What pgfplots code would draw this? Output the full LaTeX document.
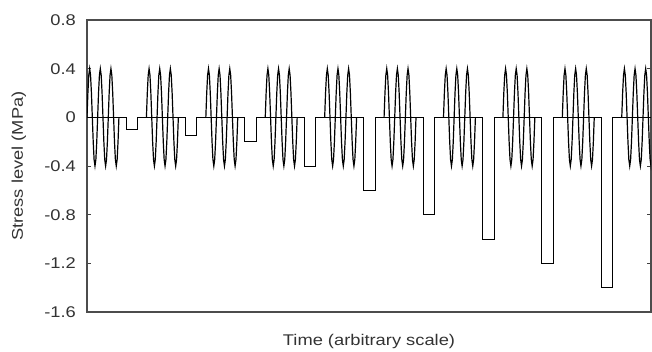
\documentclass[border=0pt]{standalone}
\usepackage{fontspec}
\setmainfont{Liberation Sans}[FakeStretch=1.18]
\usepackage{pgfplots}
\usepackage{pgfplotstable}
\pgfplotsset{compat=1.18}
\pgfplotstableread{
x y
0 0
1 0.2
2 0.346
3 0.4
4 0.346
5 0.2
6 0
7 -0.2
8 -0.346
9 -0.4
10 -0.346
11 -0.2
12 0
13 0.2
14 0.346
15 0.4
16 0.346
17 0.2
18 0
19 -0.2
20 -0.346
21 -0.4
22 -0.346
23 -0.2
24 0
25 0.2
26 0.346
27 0.4
28 0.346
29 0.2
30 0
31 -0.2
32 -0.346
33 -0.4
34 -0.346
35 -0.2
36 0
}\burst
\begin{document}
\begin{tikzpicture}
\begin{axis}[
  at={(87pt,39pt)}, anchor=south west,
  width=564pt, height=292pt, scale only axis,
  xmin=0, xmax=636, ymin=-1.6, ymax=0.8,
  xtick=\empty,
  ytick={-1.6,-1.2,-0.8,-0.4,0,0.4,0.8},
  yticklabels={-1.6,-1.2,-0.8,-0.4,0,0.4,0.8},
  tick align=inside, major tick length=4pt,
  tick style={black!75, line width=0.8pt},
  axis line style={black!70, line width=1.3pt},
  yticklabel style={inner sep=0pt, xshift=-11pt, font=\fontsize{15.5}{18}\selectfont, text=black!80},
  xlabel={Time (arbitrary scale)},
  ylabel={Stress level (MPa)},
  xlabel style={at={(axis description cs:0.5,0)}, anchor=north, inner sep=0pt, yshift=-22pt, font=\fontsize{15.5}{18}\selectfont, text=black!80},
  ylabel style={at={(axis description cs:-0.1206,0.5)}, anchor=center, inner sep=0pt, font=\fontsize{15.5}{18}\selectfont, text=black!80},
  clip=true,
]
\pgfplotsinvokeforeach{0,67,134,201,268,335,402,469,536,603}{
  \addplot[sharp plot, black, line width=1.2pt] table[x expr=\thisrow{x}+#1, y=y]{\burst};
}
\addplot[const plot, black, line width=1pt] coordinates {
(0,0)(44,-0.1)(57,0)(111,-0.15)(124,0)(178,-0.2)(191,0)(245,-0.4)(258,0)
(312,-0.6)(325,0)(379,-0.8)(392,0)(446,-1.0)(459,0)(513,-1.2)(526,0)
(580,-1.4)(593,0)(636,0)};
\end{axis}
\pgfresetboundingbox
\useasboundingbox (0,0) rectangle (652pt,351pt);
\end{tikzpicture}
\end{document}
